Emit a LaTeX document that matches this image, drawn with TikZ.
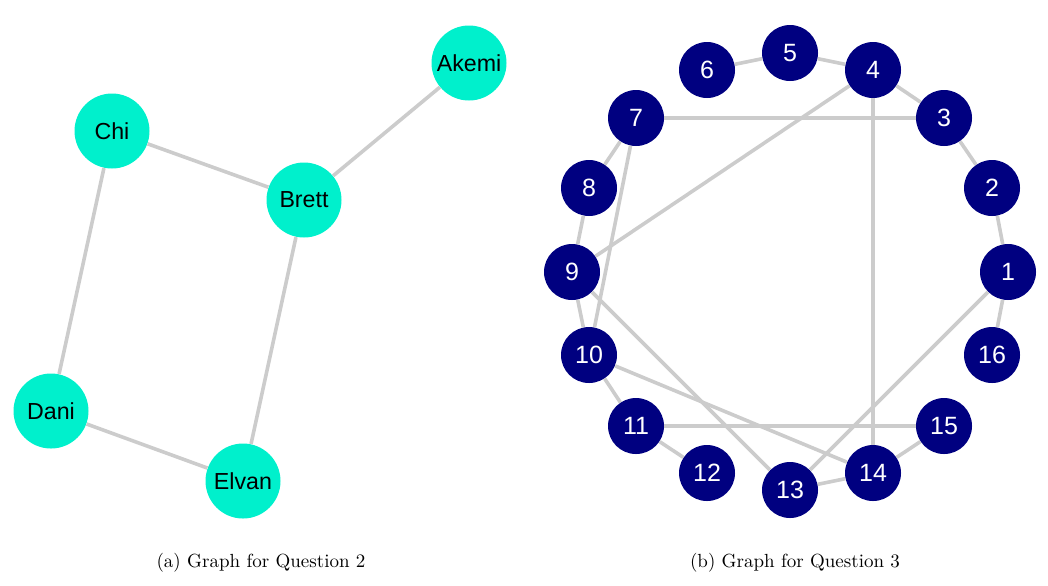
\documentclass[tikz,border=0pt]{standalone}
\usepackage{fontspec}
\newfontfamily\nodefont{Liberation Sans}
\definecolor{aqua}{RGB}{0,240,204}
\definecolor{navyblue}{RGB}{0,0,128}
\definecolor{edgegray}{RGB}{204,204,204}
\begin{document}
\begin{tikzpicture}[x=0.5pt,y=-0.5pt,
        person/.style={circle,fill=aqua,inner sep=0pt,minimum size=37.5pt,
          font=\nodefont\fontsize{11.6}{13}\selectfont},
        vert/.style={circle,fill=navyblue,text=white,inner sep=0pt,minimum size=28pt,
          font=\nodefont\fontsize{12.5}{14}\selectfont},
        link/.style={draw=edgegray,line width=1.8pt}]
      \useasboundingbox (0,0) rectangle (1048,585);
      % graph (a)
      \node (akemi) at (469,63) [person] {Akemi};
      \node (chi) at (112,131) [person] {Chi};
      \node (brett) at (304,200) [person] {Brett};
      \node (dani) at (51,411) [person] {Dani};
      \node (elvan) at (243,481) [person] {Elvan};
      \draw (akemi) edge[link] (brett);
      \draw (chi) edge[link] (brett);
      \draw (chi) edge[link] (dani);
      \draw (brett) edge[link] (elvan);
      \draw (dani) edge[link] (elvan);
      % graph (b)
      \node (1) at (1008,272) [vert] {1};
      \node (2) at (992,188) [vert] {2};
      \node (3) at (944,118) [vert] {3};
      \node (4) at (873,70) [vert] {4};
      \node (5) at (790,53) [vert] {5};
      \node (6) at (707,70) [vert] {6};
      \node (7) at (636,118) [vert] {7};
      \node (8) at (589,188) [vert] {8};
      \node (9) at (572,272) [vert] {9};
      \node (10) at (589,355) [vert] {10};
      \node (11) at (636,426) [vert] {11};
      \node (12) at (707,473) [vert] {12};
      \node (13) at (790,490) [vert] {13};
      \node (14) at (873,473) [vert] {14};
      \node (15) at (944,426) [vert] {15};
      \node (16) at (992,355) [vert] {16};
      \draw (1) edge[link] (2);
      \draw (2) edge[link] (3);
      \draw (3) edge[link] (4);
      \draw (4) edge[link] (5);
      \draw (5) edge[link] (6);
      \draw (7) edge[link] (8);
      \draw (8) edge[link] (9);
      \draw (9) edge[link] (10);
      \draw (10) edge[link] (11);
      \draw (11) edge[link] (12);
      \draw (13) edge[link] (14);
      \draw (14) edge[link] (15);
      \draw (1) edge[link] (16);
      \draw (3) edge[link] (7);
      \draw (4) edge[link] (9);
      \draw (4) edge[link] (14);
      \draw (7) edge[link] (10);
      \draw (9) edge[link] (13);
      \draw (10) edge[link] (14);
      \draw (11) edge[link] (15);
      \draw (1) edge[link] (13);
      % captions
      \node (capa) at (261,563) {\fontsize{9.5}{11}\selectfont (a) Graph for Question 2};
      \node (capb) at (795,563) {\fontsize{9.5}{11}\selectfont (b) Graph for Question 3};
\end{tikzpicture}
\end{document}
